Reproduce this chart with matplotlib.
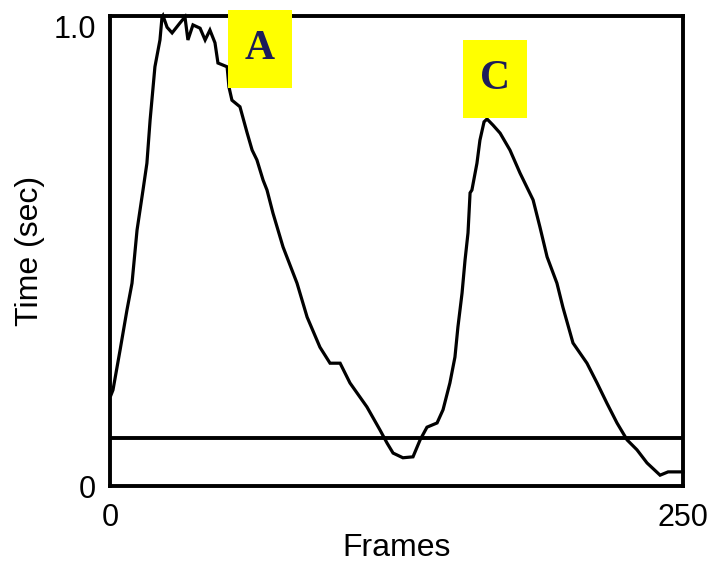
import matplotlib
matplotlib.use("Agg")
import matplotlib.pyplot as plt
from matplotlib.patches import Rectangle

# ---- data ----
frames = [0.4, 1.3, 4.4, 7.4, 9.6, 11.8, 14.4, 16.1, 17.5, 19.6, 21.8, 22.7, 23.1,
          24.9, 27.1, 30.5, 32.7, 34.0, 36.2, 39.3, 41.5, 43.6, 45.8, 47.1, 51.1,
          51.9, 53.2, 56.7, 59.8, 62.0, 64.1, 66.8, 68.5, 71.1, 75.5, 81.6, 86.0,
          91.6, 96.0, 100.4, 104.7, 112.1, 117.8, 120.9, 123.5, 127.8, 132.2,
          135.3, 138.3, 142.7, 145.3, 148.3, 150.5, 151.8, 153.6, 154.9, 156.2,
          157.1, 157.9, 160.1, 161.4, 163.2, 164.5, 167.1, 170.2, 174.5, 178.9,
          184.6, 187.6, 190.7, 195.0, 197.6, 202.0, 208.1, 212.5, 216.8, 221.2,
          225.6, 229.9, 234.3, 240.0, 243.5, 250.0]
times = [0.193, 0.204, 0.289, 0.374, 0.431, 0.544, 0.629, 0.686, 0.778, 0.891, 0.948,
         0.997, 1.000, 0.975, 0.963, 0.984, 0.997, 0.948, 0.980, 0.973, 0.948, 0.969,
         0.942, 0.899, 0.891, 0.848, 0.820, 0.806, 0.751, 0.714, 0.693, 0.650, 0.629,
         0.580, 0.508, 0.431, 0.359, 0.295, 0.261, 0.261, 0.219, 0.168, 0.119, 0.091,
         0.070, 0.060, 0.062, 0.098, 0.125, 0.134, 0.162, 0.219, 0.274, 0.338, 0.410,
         0.480, 0.538, 0.623, 0.629, 0.686, 0.735, 0.774, 0.780, 0.767, 0.750, 0.714,
         0.665, 0.608, 0.550, 0.487, 0.431, 0.380, 0.304, 0.261, 0.219, 0.176, 0.134,
         0.098, 0.077, 0.049, 0.023, 0.030, 0.030]
threshold = 0.102

label_names = ["A", "C"]
label_x = [65.4, 168.0]
label_y = [0.929, 0.865]

x_ticks = [0, 250]
x_tick_labels = ["0", "250"]
y_ticks = [0, 1.0]
y_tick_labels = ["0", "1.0"]

# ---- figure ----
plt.rcParams['font.family'] = ['Liberation Sans', 'DejaVu Sans']
fig = plt.figure(figsize=(7.15, 5.62), dpi=100)
ax = fig.add_axes([110 / 715, 76 / 562, 573 / 715, 470.5 / 562])

ax.plot(frames, times, color="black", lw=2.3, solid_joinstyle="miter", clip_on=False, zorder=3)
ax.axhline(threshold, color="black", lw=2.8, zorder=2)

ax.set_xlim(0, 250)
ax.set_ylim(0, 1.0)

# label boxes (width/height in data units)
box_w = 64 * 250 / 573
box_h = 78 / 470.5
for name, lx, ly in zip(label_names, label_x, label_y):
    ax.add_patch(Rectangle((lx - box_w / 2, ly - box_h / 2), box_w, box_h,
                           facecolor="#ffff00", edgecolor="none", zorder=5, clip_on=False))
    ax.text(lx, ly, name, ha="center", va="center", fontsize=30, fontweight="bold",
            family=["Liberation Serif", "DejaVu Serif"], color="#1c1c5a", zorder=6)

for s in ax.spines.values():
    s.set_linewidth(2.8)
    s.set_zorder(4)

ax.set_xticks(x_ticks)
ax.set_xticklabels(x_tick_labels)
ax.set_yticks(y_ticks)
ax.set_yticklabels(y_tick_labels)
ax.tick_params(axis="both", length=0, labelsize=22)
ax.tick_params(axis="x", pad=12)
ax.tick_params(axis="y", pad=10)
ax.get_yticklabels()[1].set_va("top")

ax.set_xlabel("Frames", fontsize=23, labelpad=0)
ax.set_ylabel("Time (sec)", fontsize=23, labelpad=6)

fig.savefig("out.png", dpi=100)
